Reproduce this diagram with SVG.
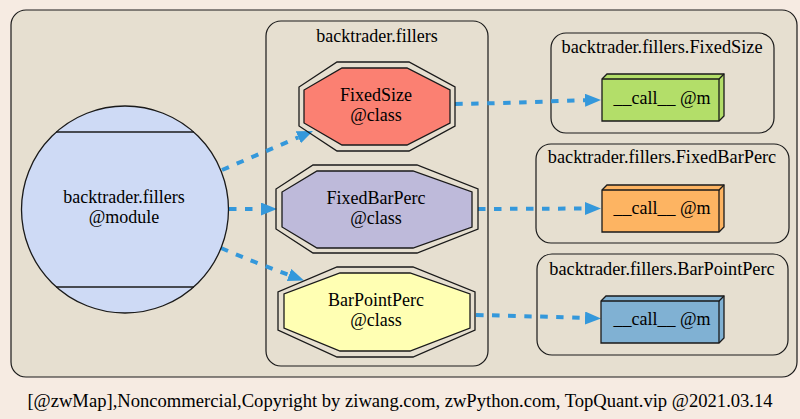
<svg xmlns="http://www.w3.org/2000/svg" width="800" height="419" viewBox="0 0 800 419">
  <defs>
    <marker id="arrow" markerUnits="userSpaceOnUse" markerWidth="16" markerHeight="13" refX="0" refY="6.5" viewBox="0 0 16 13" orient="auto">
      <path d="M0,0 L16,6.5 L0,13 z" fill="#3498db"/>
    </marker>
  </defs>
  <style>
    .cluster { fill: #e6dfd0; stroke: #1a1a1a; stroke-width: 1.2; }
    .shape { stroke: #1a1a1a; stroke-width: 1.3; }
    .outline { fill: none; stroke: #1a1a1a; stroke-width: 1.3; }
    .edge { fill: none; stroke: #3498db; stroke-width: 4; stroke-dasharray: 7.5,8.5; marker-end: url(#arrow); }
  </style>
  <rect x="0" y="0" width="800" height="419" fill="#f6ebe2"/>

  <g font-family="Liberation Serif, DejaVu Serif, serif" font-size="18" text-anchor="middle" fill="#000">
  <g id="cluster_root">
    <rect class="cluster" x="11" y="10" width="786" height="367" rx="15" ry="15"/>
  </g>
  <g id="cluster_fillers">
    <rect class="cluster" x="266" y="21" width="222" height="345" rx="15" ry="15"/>
    <text x="377" y="42">backtrader.fillers</text>
  </g>
  <g id="cluster_FixedSize">
    <rect class="cluster" x="551" y="33" width="223" height="100" rx="15" ry="15"/>
    <text x="662" y="53" font-size="18.3">backtrader.fillers.FixedSize</text>
  </g>
  <g id="cluster_FixedBarPerc">
    <rect class="cluster" x="536" y="144" width="253" height="99" rx="15" ry="15"/>
    <text x="662" y="163" font-size="18.3">backtrader.fillers.FixedBarPerc</text>
  </g>
  <g id="cluster_BarPointPerc">
    <rect class="cluster" x="537" y="254" width="251" height="101" rx="15" ry="15"/>
    <text x="662" y="275" font-size="18.3">backtrader.fillers.BarPointPerc</text>
  </g>

  <g id="edges">
    <path class="edge" d="M222,170 L298.3,137.3"/>
    <path class="edge" d="M229,209 L261,209"/>
    <path class="edge" d="M221,248 Q256,263 289,275"/>
    <path class="edge" d="M455,104 C515,103 555,101 585,100.3"/>
    <path class="edge" d="M478,209 L585,208.5"/>
    <path class="edge" d="M476,315 C520,316 555,317 585,318"/>
  </g>

  <g id="node_module">
    <circle class="shape" cx="125" cy="209.5" r="103.5" fill="#cedaf5"/>
    <line class="outline" x1="56" y1="132" x2="194" y2="132"/>
    <line class="outline" x1="56" y1="287" x2="194" y2="287"/>
    <text x="124" y="203">backtrader.fillers</text>
    <text x="124" y="223">@module</text>
  </g>

  <g id="node_FixedSize">
    <polygon class="outline" points="337,62 409,62 455,87 455,126 409,151 337,151 299,126 299,87"/>
    <polygon class="shape" fill="#fb8072" points="342,68 407,68 450,90 450,123 407,145 342,145 304,123 304,90"/>
    <text x="376" y="101">FixedSize</text>
    <text x="376" y="121">@class</text>
  </g>

  <g id="node_FixedBarPerc">
    <polygon class="outline" points="313,165 417,165 478,189 478,229 417,253 313,253 276,229 276,189"/>
    <polygon class="shape" fill="#bebada" points="317,171 413,171 472,192 472,227 413,248 317,248 282,227 282,192"/>
    <text x="376" y="204">FixedBarPerc</text>
    <text x="376" y="224">@class</text>
  </g>

  <g id="node_BarPointPerc">
    <polygon class="outline" points="337,267 413,267 475,292 475,330 413,357 337,357 278,330 278,292"/>
    <polygon class="shape" fill="#ffffb3" points="340,273 410,273 470,294 470,328 410,351 340,351 284,328 284,294"/>
    <text x="376" y="306">BarPointPerc</text>
    <text x="376" y="326">@class</text>
  </g>

  <g id="node_FixedSize_call">
    <polygon class="shape" fill="#b3de69" points="602,79 607,74 724,74 724,116 719,121 602,121"/>
    <polyline class="outline" points="602,79 719,79 724,74"/>
    <line class="outline" x1="719" y1="79" x2="719" y2="121"/>
    <text x="662" y="104">__call__ @m</text>
  </g>

  <g id="node_FixedBarPerc_call">
    <polygon class="shape" fill="#fdb462" points="602,190 607,185 724,185 724,227 719,232 602,232"/>
    <polyline class="outline" points="602,190 719,190 724,185"/>
    <line class="outline" x1="719" y1="190" x2="719" y2="232"/>
    <text x="662" y="214">__call__ @m</text>
  </g>

  <g id="node_BarPointPerc_call">
    <polygon class="shape" fill="#80b1d3" points="601,301 606,296 724,296 724,338 719,343 601,343"/>
    <polyline class="outline" points="601,301 719,301 724,296"/>
    <line class="outline" x1="719" y1="301" x2="719" y2="343"/>
    <text x="662" y="325">__call__ @m</text>
  </g>

  <text x="400" y="407" font-size="18.6">[@zwMap],Noncommercial,Copyright by ziwang.com, zwPython.com, TopQuant.vip @2021.03.14</text>
  </g>
</svg>
